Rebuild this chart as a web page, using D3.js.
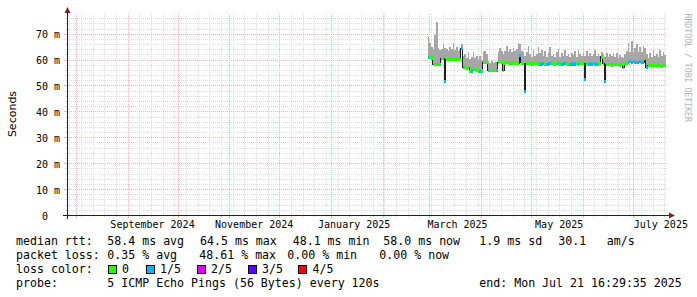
<!DOCTYPE html>
<html><head><meta charset="utf-8">
<script src="https://cdn.jsdelivr.net/npm/d3@7"></script>
<style>
html,body{margin:0;padding:0;background:#fff;}
svg{display:block;}
text{font-family:"DejaVu Sans Mono",monospace;white-space:pre;}
</style></head><body>
<svg id="c" width="697" height="297"></svg>
<script>
// ---------- data ----------
const firstDay = "2025-02-28";          // first daily step
const median = [
 60.8,60.8,60.6,58.0,58.1,58.0,58.0,58.2,60.5,60.4,
 51.6,60.0,60.1,60.0,59.9,60.0,60.1,60.0,60.0,60.2,
 64.4,56.8,56.9,56.7,56.8,55.5,55.6,56.1,56.2,56.0,
 55.5,55.4,55.6,58.9,59.0,58.8,55.8,55.7,55.8,55.9,
 55.8,55.7,59.0,59.1,58.9,55.8,58.7,58.8,58.7,58.6,
 58.7,58.8,58.7,58.7,58.6,61.5,58.7,58.6,47.8,58.4,
 58.5,58.4,58.3,58.4,58.5,58.4,58.3,58.2,58.3,58.4,
 58.3,58.2,58.3,58.4,58.5,58.4,58.3,58.4,58.4,58.3,
 58.2,58.3,58.4,58.3,58.2,58.2,58.3,58.2,58.3,58.4,
 58.3,58.4,58.5,58.4,52.3,58.3,58.2,58.3,58.2,58.4,
 58.3,58.2,58.3,58.4,61.0,58.4,51.6,58.0,58.1,58.0,
 57.9,58.0,58.1,58.0,58.0,57.9,58.0,57.0,58.5,58.6,
 59.0,59.1,59.0,59.2,59.0,58.9,59.0,59.1,59.0,59.0,
 60.5,56.8,57.6,57.7,57.6,57.5,57.6,57.7,57.6,57.6,
 57.5,57.6,57.6];
const smokeMax = [
 68.8,66.5,65.0,64.0,69.5,74.4,64.5,63.8,64.0,66.0,
 64.5,64.2,63.5,65.0,64.0,66.3,63.8,64.8,63.5,64.2,
 66.0,61.5,62.0,60.5,62.8,60.2,61.0,62.8,60.5,61.5,
 60.0,61.2,60.0,63.0,63.5,62.0,59.5,58.8,59.3,58.8,
 59.2,59.0,63.0,64.4,63.2,62.0,63.5,65.3,63.0,64.0,
 62.8,64.5,63.2,64.2,66.3,66.0,63.5,62.8,61.5,63.0,
 65.1,62.0,61.0,63.8,61.5,62.3,64.7,62.5,63.8,61.2,
 63.2,61.0,62.5,64.7,61.3,62.0,61.0,62.8,64.2,61.0,
 62.5,61.5,63.8,61.2,62.3,61.0,62.5,61.8,63.2,61.0,
 63.8,62.0,61.5,62.5,61.2,63.2,61.5,62.5,61.2,62.0,
 63.8,61.5,62.0,61.3,63.0,62.0,61.0,62.5,61.0,62.2,
 61.5,62.5,61.0,62.5,60.8,61.8,61.0,60.5,62.0,63.5,
 66.4,63.0,67.0,62.5,64.5,66.0,62.8,64.8,63.0,65.1,
 64.5,62.0,60.6,62.5,61.0,63.8,61.2,62.2,61.0,63.8,
 61.5,62.8,61.8];
const lossCount = [
 1,0,0,0,0,0,0,0,0,0,
 1,0,0,0,0,0,0,0,0,0,
 1,1,0,0,0,0,1,0,0,0,
 0,1,0,0,0,0,1,0,0,0,
 0,1,0,0,0,1,0,0,0,0,
 0,0,0,0,0,1,0,0,1,0,
 0,0,0,0,0,0,0,1,1,1,
 0,1,1,1,0,0,0,0,1,0,
 1,1,1,0,0,1,1,1,1,0,
 1,0,0,0,1,0,1,1,1,0,
 1,1,0,0,0,1,1,0,0,0,
 0,0,0,0,0,0,0,1,0,0,
 1,1,1,1,1,1,1,1,1,1,
 0,1,0,0,0,0,0,0,0,0,
 0,0,0];
const lossLabels = ["0","1/5","2/5","3/5","4/5"];
const lossColors = ["#26ff00","#00b8ff","#dd00ff","#5e00ff","#ff0000"];
const yTicks = [0,10,20,30,40,50,60,70];
const xLabelTexts = ["September 2024","November 2024","January 2025","March 2025","May 2025","July 2025"];
const xLabelDates = ["2024-09-16","2024-11-16","2025-01-15","2025-03-18","2025-05-18","2025-07-18"];
const rttStats = ["58.4 ms avg","64.5 ms max","48.1 ms min","58.0 ms now","1.9 ms sd","30.1","am/s"];
const lossStats = ["0.35 % avg","48.61 % max","0.00 % min","0.00 % now"];
const probeText = "5 ICMP Echo Pings (56 Bytes) every 120s";
const endText = "end: Mon Jul 21 16:29:35 2025";

// ---------- chart ----------
const svg = d3.select("#c");
const x = d3.scaleUtc()
  .domain([new Date(Date.UTC(2024,6,26,16,29,35)), new Date(Date.UTC(2025,6,21,16,29,35))])
  .range([67,667]);
const y = d3.scaleLinear().domain([0,77.6]).range([215,14]);
const X0=67, X1=667, Y0=215, Y1=14;
const px = v => Math.round(v)+0.5;

const t0 = new Date(firstDay+"T00:00:00Z");
const rows = median.map((m,i)=>({date:d3.utcDay.offset(t0,i), med:m, max:smokeMax[i], loss:lossCount[i]}));
const endStep = d3.utcDay.offset(t0, median.length);
const rowsExt = rows.concat([{date:endStep, med:median[median.length-1], max:smokeMax[smokeMax.length-1]}]);

const minorCol="#dedede", majorCol="#f2b6b6";
const grid = svg.append("g");
// horizontal minor
d3.range(2,77,2).filter(v=>v%10!==0).forEach(v=>{
  grid.append("line").attr("x1",X0).attr("x2",X1).attr("y1",px(y(v))).attr("y2",px(y(v)))
    .attr("stroke",minorCol).attr("stroke-dasharray","1,1");
  grid.append("line").attr("x1",X0-2).attr("x2",X0).attr("y1",px(y(v))).attr("y2",px(y(v))).attr("stroke",minorCol);
});
// vertical minor (weekly)
d3.utcSunday.range(x.domain()[0], x.domain()[1]).forEach(d=>{
  grid.append("line").attr("x1",px(x(d))).attr("x2",px(x(d))).attr("y1",Y1).attr("y2",Y0)
    .attr("stroke",minorCol).attr("stroke-dasharray","1,1");
  grid.append("line").attr("x1",px(x(d))).attr("x2",px(x(d))).attr("y1",Y0).attr("y2",Y0+2).attr("stroke",minorCol);
});
// major horizontal
yTicks.filter(v=>v>0).forEach(v=>{
  grid.append("line").attr("x1",X0).attr("x2",X1).attr("y1",px(y(v))).attr("y2",px(y(v)))
    .attr("stroke",majorCol).attr("stroke-dasharray","1,1");
  grid.append("line").attr("x1",X0-3).attr("x2",X0).attr("y1",px(y(v))).attr("y2",px(y(v))).attr("stroke",majorCol);
});
// major vertical (months)
d3.utcMonth.range(x.domain()[0], x.domain()[1]).forEach(d=>{
  grid.append("line").attr("x1",px(x(d))).attr("x2",px(x(d))).attr("y1",Y1).attr("y2",Y0)
    .attr("stroke",majorCol).attr("stroke-dasharray","1,1");
  grid.append("line").attr("x1",px(x(d))).attr("x2",px(x(d))).attr("y1",Y0).attr("y2",Y0+3).attr("stroke",majorCol);
});

// smoke
const smoke = d3.area().curve(d3.curveStepAfter)
  .x(d=>x(d.date)).y0(d=>y(d.med)).y1(d=>y(d.max));
svg.append("path").datum(rowsExt).attr("d",smoke).attr("fill","#a6a6a6").attr("shape-rendering","crispEdges");

// median line
const medLine = d3.line().curve(d3.curveStepAfter).x(d=>x(d.date)).y(d=>y(d.med));
svg.append("path").datum(rowsExt).attr("d",medLine).attr("fill","none")
  .attr("stroke","#202020").attr("stroke-width",1).attr("shape-rendering","crispEdges");

// loss coloured band
const sw = 0.6;
svg.append("g").selectAll("rect").data(rows).join("rect")
  .attr("x",d=>x(d.date))
  .attr("width",d=>x(d3.utcDay.offset(d.date,1))-x(d.date))
  .attr("y",d=>y(d.med+sw))
  .attr("height",d=>y(d.med-sw)-y(d.med+sw))
  .attr("fill",d=>lossColors[d.loss])
  .attr("shape-rendering","crispEdges");

// axes
const axisCol="#202020", arrowCol="#801f1f";
svg.append("line").attr("x1",X0-4).attr("x2",X1+4).attr("y1",Y0+0.5).attr("y2",Y0+0.5).attr("stroke",axisCol);
svg.append("line").attr("x1",X0+0.5).attr("x2",X0+0.5).attr("y1",Y0+4).attr("y2",Y1-4).attr("stroke",axisCol);
svg.append("path").attr("d",`M${X0-2.5},${Y1-1}L${X0+3.5},${Y1-1}L${X0+0.5},${Y1-7}Z`).attr("fill",arrowCol);
svg.append("path").attr("d",`M${X1+2},${Y0-2.5}L${X1+2},${Y0+3.5}L${X1+8},${Y0+0.5}Z`).attr("fill",arrowCol);

// y labels
const yl = svg.append("g").attr("font-size","10px").attr("fill","#000");
yTicks.forEach(v=>{
  yl.append("text").attr("x",48).attr("y",y(v)+4.5).attr("text-anchor","end").text(String(v));
  if(v>0) yl.append("text").attr("x",54).attr("y",y(v)+4.5).text("m");
});
// x labels
const xl = svg.append("g").attr("font-size","10px").attr("fill","#000");
xLabelTexts.forEach((t,i)=>{
  xl.append("text").attr("x",x(new Date(xLabelDates[i]+"T00:00:00Z"))).attr("y",228)
    .attr("text-anchor","middle").text(t);
});

// y title
svg.append("text").attr("transform","translate(15.5,114) rotate(-90)").attr("text-anchor","middle")
  .attr("font-size","11px").style("font-family","'DejaVu Sans',sans-serif").attr("fill","#000").text("Seconds");
// watermark
svg.append("text").attr("transform","translate(685,13.5) rotate(90)")
  .attr("font-size","8.2px").attr("fill","#b4b4b4").text("RRDTOOL / TOBI OETIKER");

// legend
const lg = svg.append("g").attr("font-size","11.6px").attr("fill","#000");
const L1=245.3, L2=259.3, L3=273.3, L4=287.3;
lg.append("text").attr("x",16).attr("y",L1).text("median rtt:");
[107.3,200,292.7,383.3,479.3,558.3,606.7].forEach((xx,i)=>lg.append("text").attr("x",xx).attr("y",L1).text(rttStats[i]));
lg.append("text").attr("x",16).attr("y",L2).text("packet loss:");
[107.3,199.3,287.3,379.3].forEach((xx,i)=>lg.append("text").attr("x",xx).attr("y",L2).text(lossStats[i]));
lg.append("text").attr("x",16).attr("y",L3).text("loss color:");
const boxX=[108,146,197,248,298], labX=[122,160,211,262,312.5];
lossLabels.forEach((t,i)=>{
  lg.append("rect").attr("x",boxX[i]+0.5).attr("y",265.5).attr("width",8).attr("height",8)
    .attr("fill",lossColors[i]).attr("stroke","#000").attr("stroke-width",1);
  lg.append("text").attr("x",labX[i]).attr("y",L3).text(t);
});
lg.append("text").attr("x",16).attr("y",L4).text("probe:");
lg.append("text").attr("x",107.3).attr("y",L4).text(probeText);
lg.append("text").attr("x",479.3).attr("y",L4).text(endText);
</script>
</body></html>
